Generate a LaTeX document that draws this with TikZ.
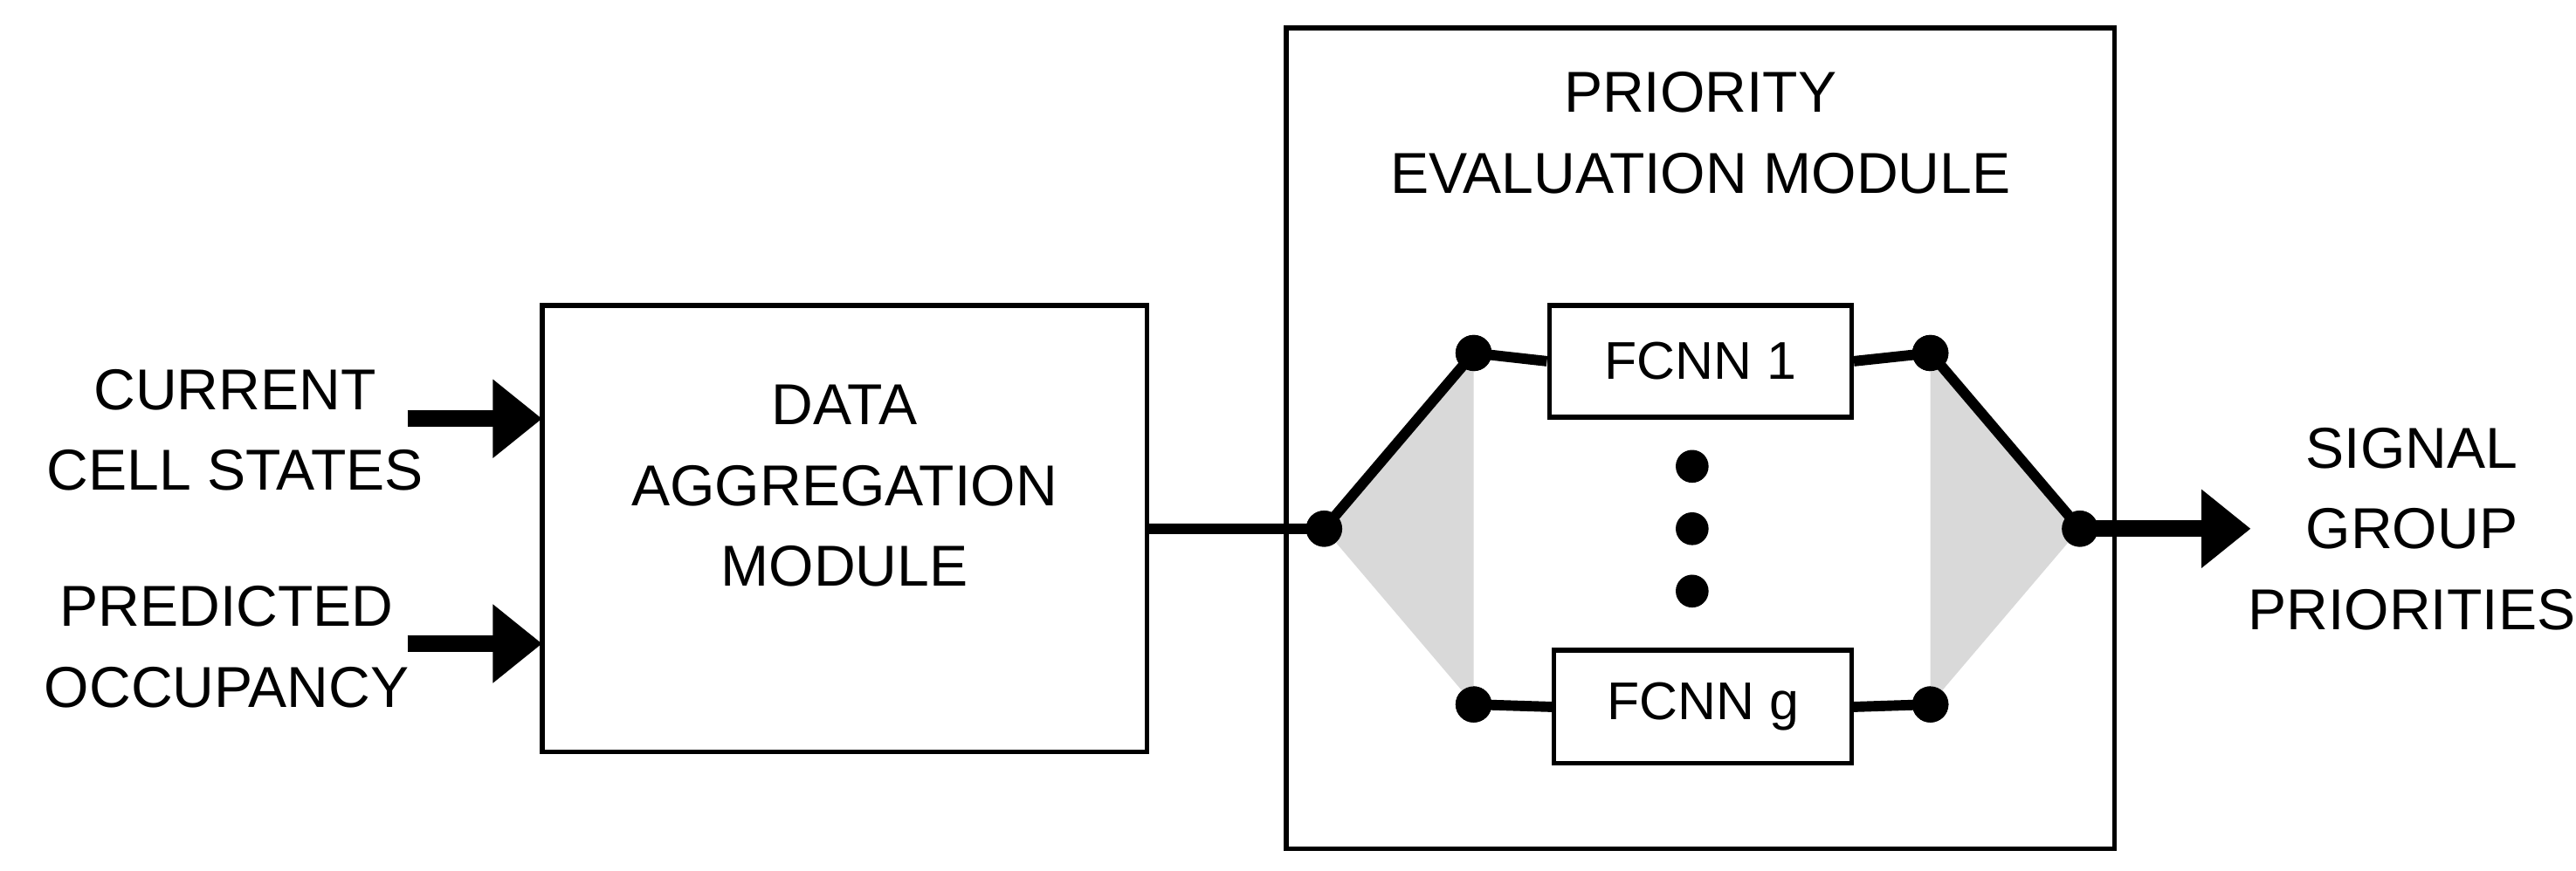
\documentclass[tikz,border=0pt]{standalone}
\usepackage{fontspec}
\setmainfont{Liberation Sans}
\usetikzlibrary{arrows.meta}
\begin{document}
\begin{tikzpicture}[x=0.1cm,y=-0.1cm,
 box/.style={draw,line width=8pt},
 lbl/.style={font=\fontsize{100}{140}\selectfont,align=center},
 dot/.style={circle,fill,inner sep=0pt,minimum size=2.2cm},
 wire/.style={line width=18pt},
 big/.style={line width=1cm,-{Triangle[length=3cm,width=4.6cm]}}]
\useasboundingbox (0,0) rectangle (1568,530.4);
\draw[box] (330,186) rectangle (698,458);
\draw[box] (783,17) rectangle (1287,517);
\node[lbl] (dam) at (514,296) {DATA\\AGGREGATION\\MODULE};
\coordinate (damr) at (698,322);
\coordinate (daml1) at (330,255);
\coordinate (daml2) at (330,392);
\node[lbl] at (1035,81) {PRIORITY\\EVALUATION MODULE};
\node[lbl] (cur) at (143,262) {CURRENT\\CELL STATES};
\node[lbl] (pred) at (138,394) {PREDICTED\\OCCUPANCY};
\node[lbl] (out) at (1468,322) {SIGNAL\\GROUP\\PRIORITIES};
\coordinate (a1) at (248,255); \coordinate (a2) at (248,392);
\node[dot] (L) at (806,322) {};
\node[dot] (TL) at (897,215) {};
\node[dot] (BL) at (897,429) {};
\node[dot] (TR) at (1175,215) {};
\node[dot] (BR) at (1175,429) {};
\node[dot] (R) at (1266,322) {};
\coordinate (o) at (1370,322);
\fill[gray!30] (L.center) -- (TL.center) -- (BL.center) -- cycle;
\fill[gray!30] (R.center) -- (TR.center) -- (BR.center) -- cycle;
\node[dot] at (L) {};\node[dot] at (R) {};
\node[dot] at (TL) {};\node[dot] at (BL) {};\node[dot] at (TR) {};\node[dot] at (BR) {};
\node[box,lbl,minimum width=18.4cm,minimum height=6.8cm,font=\fontsize{92}{110}\selectfont] (f1) at (1035,220) {FCNN 1};
\node[box,lbl,minimum width=18.1cm,minimum height=6.9cm,font=\fontsize{92}{110}\selectfont] (fg) at (1036.5,430.5) {FCNN g};
\foreach \y in {284,322,360} \node[dot,minimum size=2cm] at (1030,\y) {};
\draw[wire] (damr) -- (L.center) -- (TL.center) -- (f1.west);
\draw[wire] (f1.east) -- (TR.center) -- (R.center);
\draw[wire] (BL.center) -- (fg.west);
\draw[wire] (fg.east) -- (BR.center);
\draw[big] (a1) -- (daml1);
\draw[big] (a2) -- (daml2);
\draw[big] (R.center) -- (o);
\end{tikzpicture}
\end{document}
